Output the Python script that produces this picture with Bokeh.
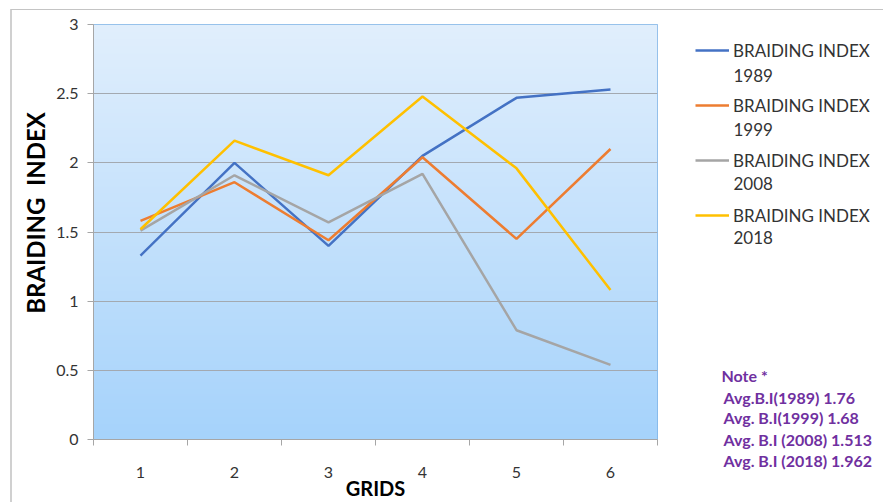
import numpy as np
from bokeh.plotting import figure
from bokeh.layouts import row, column
from bokeh.models import Range1d, FixedTicker, Legend, LegendItem, Label
from bokeh.embed import file_html
from bokeh.resources import INLINE

# ---- data ----
grids = [1, 2, 3, 4, 5, 6]
bi_1989 = [1.33, 2.00, 1.40, 2.05, 2.47, 2.53]
bi_1999 = [1.58, 1.86, 1.44, 2.04, 1.45, 2.10]
bi_2008 = [1.51, 1.91, 1.57, 1.92, 0.79, 0.54]
bi_2018 = [1.52, 2.16, 1.91, 2.48, 1.96, 1.08]
series_title = "BRAIDING INDEX"
series_years = ["1989", "1999", "2008", "2018"]
series_colors = ["#4472C4", "#ED7D31", "#A5A5A5", "#FFC000"]
y_ticks = [0, 0.5, 1, 1.5, 2, 2.5, 3]
note_lines = ["Note *", "Avg.B.I(1989) 1.76", "Avg. B.I(1999) 1.68",
              "Avg. B.I (2008) 1.513", "Avg. B.I (2018) 1.962"]

x_lo, x_hi = 0.5, 6.5
y_lo, y_hi = 0, 3
H = 502
FRAME_TOP, FRAME_BOTTOM = 24, 439
LEFT_W, MAIN_W = 52, 608
RIGHT_W = 883 - LEFT_W - MAIN_W
TOP_H = 340


def side_figure(w, h):
    f = figure(width=w, height=h, output_backend="svg", toolbar_location=None,
               x_range=Range1d(0, 1), y_range=Range1d(0, 1),
               x_axis_location=None, y_axis_location=None,
               min_border=0, min_border_left=0, min_border_right=0,
               min_border_top=0, min_border_bottom=0)
    f.grid.visible = False
    f.outline_line_color = None
    f.background_fill_color = None
    f.border_fill_color = None
    return f


# ---------- left: y title (frame aligned with main plot frame) ----------
pl = side_figure(LEFT_W, H)
pl.add_layout(Label(x=34.5, y=FRAME_BOTTOM - 212.5, x_units="screen", y_units="screen",
                    text="BRAIDING\u00a0 INDEX", angle=90, angle_units="deg",
                    text_align="center", text_baseline="middle",
                    text_font="Lato", text_font_style="bold", text_font_size="24px",
                    text_color="#000000"))

# ---------- main plot ----------
p = figure(width=MAIN_W, height=H, output_backend="svg", toolbar_location=None,
           x_range=Range1d(x_lo, x_hi), y_range=Range1d(y_lo, y_hi),
           min_border_left=41, min_border_right=3, min_border_top=FRAME_TOP,
           min_border_bottom=H - FRAME_BOTTOM)
p.border_fill_color = None

rows = 415
top = np.array([225, 239, 253], dtype=float)
bot = np.array([166, 211, 251], dtype=float)
t = np.linspace(0, 1, rows)[:, None]
cols = (bot * (1 - t) + top * t).astype(np.uint32)
img = np.zeros((rows, 1), dtype=np.uint32)
view = img.view(dtype=np.uint8).reshape((rows, 1, 4))
view[:, 0, 0] = cols[:, 0]
view[:, 0, 1] = cols[:, 1]
view[:, 0, 2] = cols[:, 2]
view[:, 0, 3] = 255
bg = p.image_rgba(image=[img], x=x_lo, y=y_lo, dw=x_hi - x_lo, dh=y_hi - y_lo)
bg.level = "image"

p.background_fill_color = None
p.outline_line_color = "#7eb3e6"
p.outline_line_width = 1

p.xgrid.grid_line_color = None
p.ygrid.grid_line_color = "#a3a9b0"
p.ygrid.ticker = FixedTicker(ticks=y_ticks)

p.yaxis.ticker = FixedTicker(ticks=y_ticks)
p.yaxis.major_tick_out = 6
p.yaxis.major_tick_in = 0
p.yaxis.minor_tick_out = 0
p.yaxis.axis_line_color = "#a6a6a6"
p.yaxis.major_tick_line_color = "#a6a6a6"
p.yaxis.major_label_text_font = "Lato"
p.yaxis.major_label_text_font_size = "16px"
p.yaxis.major_label_text_color = "#333333"
p.yaxis.major_label_standoff = 9

p.xaxis.ticker = FixedTicker(ticks=grids,
                             minor_ticks=[g - 0.5 for g in grids] + [grids[-1] + 0.5])
p.xaxis.major_tick_out = 0
p.xaxis.major_tick_in = 0
p.xaxis.minor_tick_out = 6
p.xaxis.minor_tick_in = 0
p.xaxis.minor_tick_line_color = "#a6a6a6"
p.xaxis.axis_line_color = "#a6a6a6"
p.xaxis.major_label_text_font = "Lato"
p.xaxis.major_label_text_font_size = "16px"
p.xaxis.major_label_text_color = "#333333"
p.xaxis.major_label_standoff = 21
p.xaxis.axis_label = "GRIDS"
p.xaxis.axis_label_text_font = "Lato"
p.xaxis.axis_label_text_font_style = "bold"
p.xaxis.axis_label_text_font_size = "20px"
p.xaxis.axis_label_text_color = "#000000"
p.xaxis.axis_label_standoff = -5

for ys, c in zip([bi_1989, bi_1999, bi_2008, bi_2018], series_colors):
    p.line(grids, ys, line_color=c, line_width=2.5)

# ---------- right top: legend ----------
pr = side_figure(RIGHT_W, TOP_H)
keys = [pr.line(x=[np.nan], y=[np.nan], line_color=c, line_width=2.5) for c in series_colors]
legend = Legend(items=[LegendItem(label=series_title, renderers=[k]) for k in keys],
                location=(35, TOP_H - 225.7))
legend.label_text_font = "Lato"
legend.label_text_font_size = "17px"
legend.label_text_color = "#333333"
legend.glyph_width = 34
legend.glyph_height = 20
legend.label_height = 20
legend.label_standoff = 4
legend.spacing = 34
legend.padding = 0
legend.margin = 0
legend.border_line_color = None
legend.background_fill_color = None
pr.add_layout(legend, "center")

year_page_y = [75, 129, 183, 237]
for yr, yy in zip(series_years, year_page_y):
    pr.add_layout(Label(x=73, y=TOP_H - yy, x_units="screen", y_units="screen", text=yr,
                        text_align="left", text_baseline="middle",
                        text_font="Lato", text_font_size="17px", text_color="#333333"))

# ---------- right bottom: note ----------
pn = side_figure(RIGHT_W, H - TOP_H)
note_page_y = [375, 396.5, 417, 439, 460]
note_x = [61, 63, 63, 63, 63]
for txt, nx, ny in zip(note_lines, note_x, note_page_y):
    pn.add_layout(Label(x=nx, y=H - ny, x_units="screen", y_units="screen", text=txt,
                        text_align="left", text_baseline="middle",
                        text_font="Lato", text_font_style="bold", text_font_size="16px",
                        text_color="#7030A0"))

layout = row(pl, p, column(pr, pn, spacing=0), spacing=0)
layout.styles = {
    "background": ("linear-gradient(#c4c4c4, #c4c4c4) 11px 9px / 100% 1px no-repeat, "
                   "linear-gradient(#d0d0d0, #d0d0d0) 10px 9px / 2px 100% no-repeat, white"),
}
open("out.html", "w").write(file_html(layout, INLINE))
